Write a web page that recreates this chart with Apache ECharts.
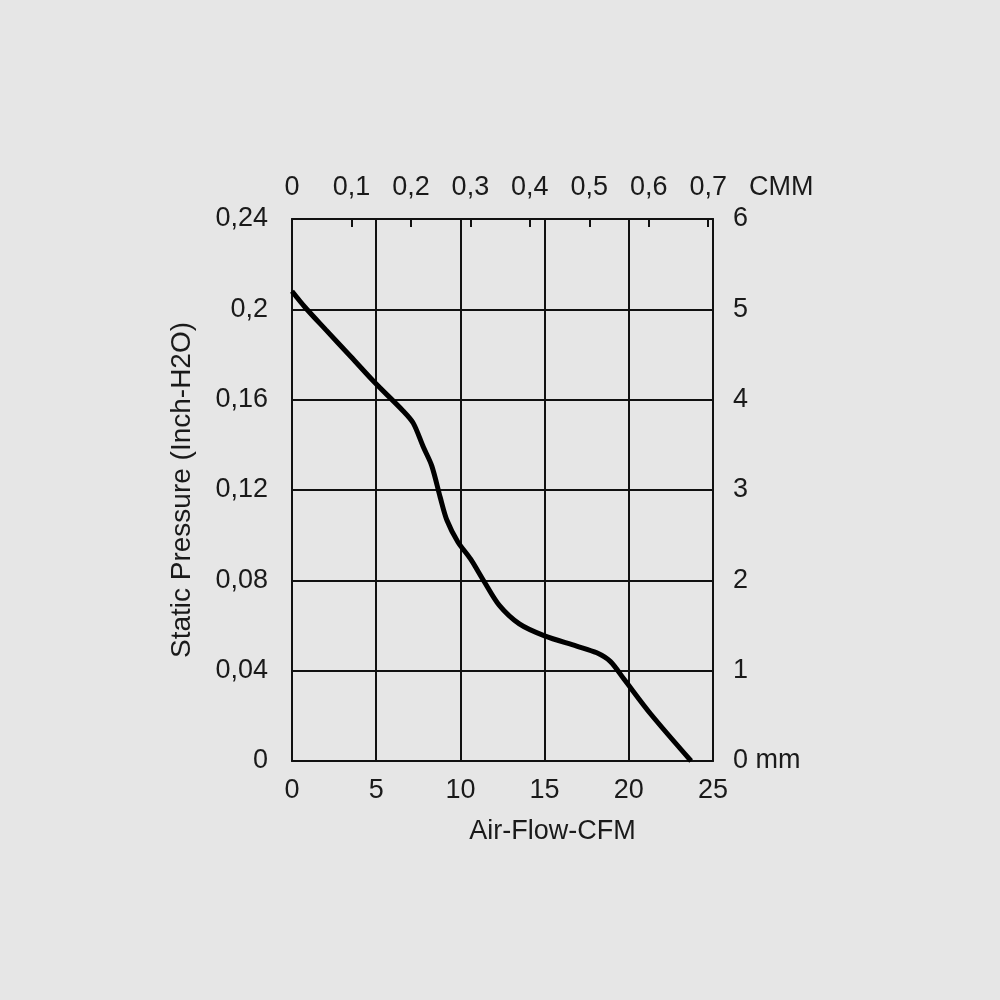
<!DOCTYPE html>
<html>
<head>
<meta charset="utf-8">
<script src="https://cdn.jsdelivr.net/npm/echarts@6/dist/echarts.min.js"></script>
<style>
html,body{margin:0;padding:0;background:#e6e6e6;}
#chart{width:1000px;height:1000px;}
</style>
</head>
<body>
<div id="chart"></div>
<script>
// Air flow (CFM) and static pressure (Inch-H2O)
const airFlowCFM = [0, 0.8, 2, 3.5, 4.9, 6.6, 7.2, 7.8, 8.3, 8.8, 9.2, 9.85, 10.6, 11.4, 12.3, 13.5, 15, 16.9, 18.1, 18.9, 19.7, 21.3, 23.7];
const pressureInch = [0.208, 0.2007, 0.191, 0.179, 0.1677, 0.155, 0.1496, 0.139, 0.1307, 0.1168, 0.1066, 0.097, 0.0895, 0.0796, 0.069, 0.0607, 0.0554, 0.0509, 0.0479, 0.0441, 0.0364, 0.0208, 0];
const cfmTicks = {min: 0, max: 25, interval: 5};
const inchTicks = {min: 0, max: 0.24, interval: 0.04};
const mmTicks = {min: 0, max: 6, interval: 1};
const cmmTicks = {min: 0, max: 25 * 0.02832, interval: 0.1};

const font = '"Liberation Sans", Arial, sans-serif';
const txt = '#1a1a1a';
const lineCol = '#111';
const fs = 27;
const comma = v => String(Number(v.toFixed(2))).replace('.', ',');

const chart = echarts.init(document.getElementById('chart'));
chart.setOption({
  backgroundColor: '#e6e6e6',
  animation: false,
  textStyle: {fontFamily: font},
  grid: {left: 292, right: 287, top: 219, bottom: 239},
  xAxis: [
    {
      type: 'value', position: 'bottom',
      min: cfmTicks.min, max: cfmTicks.max, interval: cfmTicks.interval,
      axisLine: {show: true, onZero: false, lineStyle: {color: lineCol, width: 2}},
      axisTick: {show: false},
      splitLine: {show: true, lineStyle: {color: lineCol, width: 2}},
      axisLabel: {fontSize: fs, color: txt, margin: 16, fontFamily: font},
      name: 'Air-Flow-CFM', nameLocation: 'middle', nameGap: 57,
      nameTextStyle: {fontSize: fs, color: txt, fontFamily: font, padding: [0, 0, 0, 100]}
    },
    {
      type: 'value', position: 'top',
      min: cmmTicks.min, max: cmmTicks.max, interval: cmmTicks.interval,
      axisLine: {show: true, onZero: false, lineStyle: {color: lineCol, width: 2}},
      axisTick: {show: true, inside: true, length: 8, lineStyle: {color: lineCol, width: 2}},
      splitLine: {show: false},
      axisLabel: {
        fontSize: fs, color: txt, margin: 18, fontFamily: font,
        formatter: v => Math.abs(v * 10 - Math.round(v * 10)) > 1e-6 ? '' : comma(v)
      },
      name: 'CMM', nameLocation: 'end', nameGap: 36,
      nameTextStyle: {fontSize: fs, color: txt, fontFamily: font, verticalAlign: 'bottom', padding: [0, 0, 18, 0]}
    }
  ],
  yAxis: [
    {
      type: 'value', position: 'left',
      min: inchTicks.min, max: inchTicks.max, interval: inchTicks.interval,
      axisLine: {show: true, onZero: false, lineStyle: {color: lineCol, width: 2}},
      axisTick: {show: false},
      splitLine: {show: true, lineStyle: {color: lineCol, width: 2}},
      axisLabel: {fontSize: fs, color: txt, margin: 24, fontFamily: font, formatter: comma},
      name: 'Static Pressure (Inch-H2O)', nameLocation: 'middle', nameGap: 96, nameRotate: 90,
      nameTextStyle: {fontSize: 28, color: txt, fontFamily: font}
    },
    {
      type: 'value', position: 'right',
      min: mmTicks.min, max: mmTicks.max, interval: mmTicks.interval,
      axisLine: {show: true, onZero: false, lineStyle: {color: lineCol, width: 2}},
      axisTick: {show: false},
      splitLine: {show: false},
      axisLabel: {fontSize: fs, color: txt, margin: 20, fontFamily: font,
        formatter: v => v === 0 ? '0 mm' : String(v)}
    }
  ],
  series: [{
    type: 'line',
    xAxisIndex: 0, yAxisIndex: 0,
    data: airFlowCFM.map((x, i) => [x, pressureInch[i]]),
    smooth: 0.3,
    showSymbol: false,
    lineStyle: {color: '#000', width: 5},
    z: 5
  }]
});
</script>
</body>
</html>
